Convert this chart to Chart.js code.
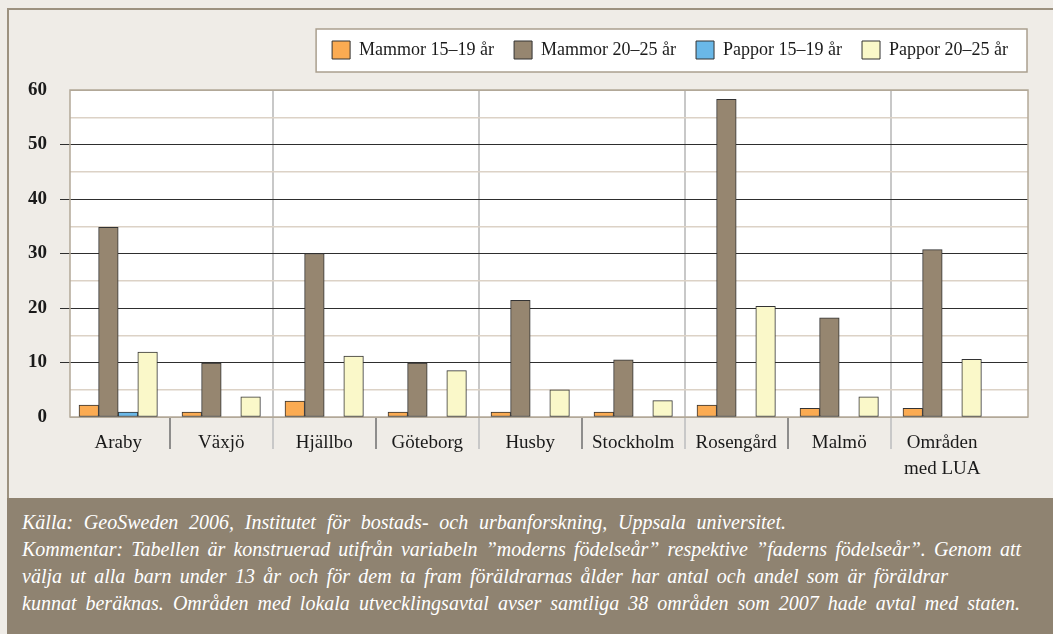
<!DOCTYPE html>
<html>
<head>
<meta charset="utf-8">
<script src="https://cdn.jsdelivr.net/npm/chart.js@4.4.1/dist/chart.umd.min.js"></script>
<style>
html,body{margin:0;padding:0;background:#efece7;width:1053px;height:634px;overflow:hidden;}
#frame{position:absolute;left:7px;top:8px;width:1046px;height:490px;border-left:2px solid #9c917f;border-top:2px solid #9c917f;box-sizing:border-box;}
#chart{position:absolute;left:0;top:0;}
#foot{position:absolute;left:7px;top:498px;width:1046px;height:136px;background:#8f8371;color:#fff;font-family:"Liberation Serif",serif;font-style:italic;font-size:20px;line-height:27px;padding:11px 0 0 15px;box-sizing:border-box;}
#foot div{white-space:nowrap;}
#foot span{display:inline-block;}
</style>
</head>
<body>
<div id="frame"></div>
<canvas id="chart" width="1053" height="498"></canvas>
<div id="foot">
<div><span>Källa: GeoSweden 2006, Institutet för bostads- och urbanforskning, Uppsala universitet.</span></div>
<div><span>Kommentar: Tabellen är konstruerad utifrån variabeln ”moderns födelseår” respektive ”faderns födelseår”. Genom att</span></div>
<div><span>välja ut alla barn under 13 år och för dem ta fram föräldrarnas ålder har antal och andel som är föräldrar</span></div>
<div><span>kunnat beräknas. Områden med lokala utvecklingsavtal avser samtliga 38 områden som 2007 hade avtal med staten.</span></div>
</div>
<script>
// ---- data ----
const categories = ['Araby', 'Växjö', 'Hjällbo', 'Göteborg', 'Husby', 'Stockholm', 'Rosengård', 'Malmö', ['Områden', 'med LUA']];
const seriesNames = ['Mammor 15–19 år', 'Mammor 20–25 år', 'Pappor 15–19 år', 'Pappor 20–25 år'];
const mammor1519 = [2.2, 0.9, 2.9, 0.9, 0.9, 0.9, 2.2, 1.6, 1.6];
const mammor2025 = [34.8, 9.9, 30.0, 9.9, 21.4, 10.5, 58.3, 18.2, 30.7];
const pappor1519 = [0.9, 0, 0, 0, 0, 0, 0, 0, 0];
const pappor2025 = [11.9, 3.7, 11.2, 8.5, 5.0, 3.0, 20.3, 3.7, 10.6];
const yTicks = [0, 10, 20, 30, 40, 50, 60];

// ---- styling ----
const FONT = "'Liberation Serif', serif";
const colors = ['#fbab52', '#968670', '#6ab8e8', '#faf8c9'];
const seriesValues = [mammor1519, mammor2025, pappor1519, pappor2025];

const framePlugin = {
  id: 'framePlugin',
  afterInit(chart) {
    const lg = chart.legend;
    if (lg && !lg._patched) {
      const fit = lg.fit;
      lg.fit = function () { fit.call(this); this.height += 21; };
      lg._patched = true;
    }
  },
  beforeDraw(chart) {
    const {ctx, chartArea: a} = chart;
    ctx.save();
    ctx.fillStyle = '#ffffff';
    ctx.fillRect(a.left, a.top, a.right - a.left, a.bottom - a.top);
    const lg = chart.legend;
    const hb = lg && lg.legendHitBoxes;
    if (hb && hb.length) {
      const x0 = hb[0].left - 16, x1 = lg.right - 1;
      const y0 = hb[0].top - 12, y1 = hb[0].top + hb[0].height + 13;
      ctx.fillRect(x0, y0, x1 - x0, y1 - y0);
      ctx.strokeStyle = '#aa9f8f';
      ctx.lineWidth = 1.5;
      ctx.strokeRect(x0, y0, x1 - x0, y1 - y0);
    }
    ctx.restore();
  },
  beforeDatasetsDraw(chart) {
    const {ctx, chartArea: a} = chart;
    ctx.save();
    ctx.strokeStyle = '#b3a898';
    ctx.lineWidth = 1.5;
    ctx.strokeRect(a.left, a.top, a.right - a.left, a.bottom - a.top);
    ctx.restore();
  }
};

function yGridColor(c) {
  if (!c.tick) return 'transparent';
  const v = c.tick.value;
  if (v === 0 || v === 60) return '#b3a898';
  return v % 10 === 0 ? '#2e2e2e' : '#dcd2c6';
}

new Chart(document.getElementById('chart'), {
  type: 'bar',
  data: {
    labels: categories.map((c, i) => i),
    datasets: seriesNames.map((name, k) => ({
      label: name,
      data: seriesValues[k],
      backgroundColor: colors[k],
      borderColor: '#333333',
      borderWidth: 1,
      borderSkipped: false,
      barThickness: 19.6
    }))
  },
  options: {
    responsive: false,
    animation: false,
    devicePixelRatio: 1,
    events: [],
    layout: {padding: {top: 21, right: 25, left: 0, bottom: 0}},
    plugins: {
      tooltip: {enabled: false},
      legend: {
        position: 'top',
        align: 'end',
        labels: {
          boxWidth: 18, boxHeight: 18, padding: 20,
          color: '#1a1a1a',
          font: {family: FONT, size: 18}
        }
      }
    },
    scales: {
      x: {
        type: 'linear',
        min: -0.468,
        max: 8.833,
        offset: false,
        afterFit(s) { s.height = 81; },
        border: {display: false},
        grid: {
          offset: true,
          tickLength: 32,
          lineWidth: 2,
          color: c => (c.tick && c.index % 2 === 0) ? '#c8c8c8' : 'transparent',
          tickColor: c => !c.tick ? 'transparent' : (c.index % 2 === 0 ? '#c8c8c8' : '#6e6e6e'),
          tickWidth: c => (c.tick && c.index % 2 === 0) ? 2 : 1.5
        },
        ticks: {
          stepSize: 1,
          includeBounds: false,
          autoSkip: false,
          maxRotation: 0,
          minRotation: 0,
          padding: -19,
          color: '#1a1a1a',
          font: {family: FONT, size: 19, lineHeight: 1.37},
          callback: v => (Number.isInteger(v) && categories[v] !== undefined) ? categories[v] : ''
        }
      },
      y: {
        min: 0,
        max: 60,
        afterFit(s) { s.width = 70; },
        border: {display: false},
        grid: {
          color: yGridColor,
          lineWidth: c => (c.tick && c.tick.value % 10 !== 0) ? 1.5 : 1,
          tickLength: 10,
          tickWidth: 1,
          tickColor: c => (c.tick && c.tick.value % 10 === 0 && c.tick.value > 0 && c.tick.value < 60) ? '#2e2e2e' : 'transparent'
        },
        ticks: {
          stepSize: 5,
          padding: 13,
          color: '#1a1a1a',
          font: {family: FONT, size: 19, weight: 'bold'},
          callback: v => yTicks.includes(v) ? v : ''
        }
      }
    }
  },
  plugins: [framePlugin]
});

// fit footer lines to the widths seen in the original layout (extra room goes between words)
const footTargets = [764, 999, 926, 998];
document.querySelectorAll('#foot span').forEach((sp, i) => {
  const w = sp.getBoundingClientRect().width;
  const gaps = (sp.textContent.match(/ /g) || []).length;
  sp.style.wordSpacing = ((footTargets[i] - w) / Math.max(gaps, 1)) + 'px';
});
</script>
</body>
</html>
